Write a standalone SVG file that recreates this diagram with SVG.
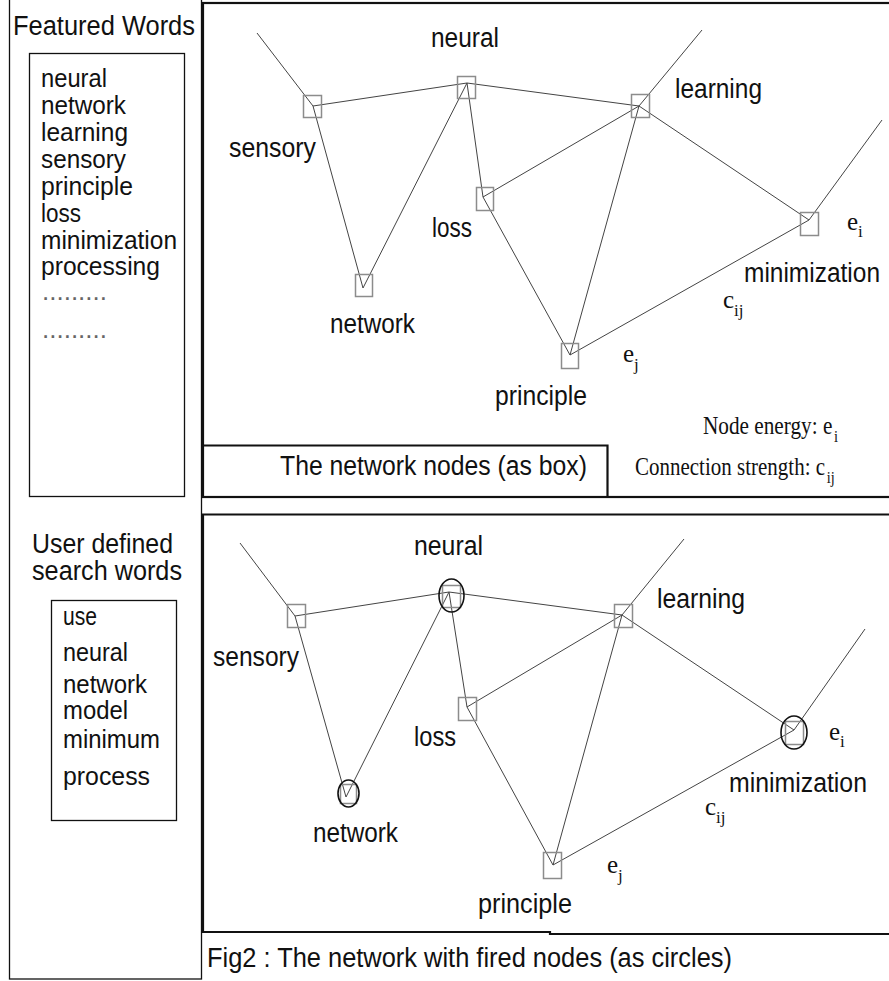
<svg xmlns="http://www.w3.org/2000/svg" width="889" height="981" viewBox="0 0 889 981">
<style>
.sans{font-family:"Liberation Sans",Arial,sans-serif;font-size:27px;fill:#111}
.list{font-size:25.5px}
.serif{font-family:"Liberation Serif","Times New Roman",serif;font-size:25px;fill:#111}
.sub{font-size:17px}
.edge{stroke:#444;stroke-width:1;fill:none}
.box{fill:none;stroke:#8c8c8c;stroke-width:1.5}
.fired{fill:none;stroke:#111;stroke-width:1.6}
.frame{fill:none;stroke:#111;stroke-width:2.2}
.thin{fill:none;stroke:#111;stroke-width:1.3}
</style>
<rect width="889" height="981" fill="#fff"/>

<!-- left panel -->
<g id="featured-words">
<rect class="thin" x="9.5" y="-1" width="192" height="980"/>
<text class="sans" x="13" y="35" font-size="28" textLength="182" lengthAdjust="spacingAndGlyphs">Featured Words</text>
<rect class="thin" x="29.5" y="53.5" width="155" height="443"/>
<text class="sans list" x="41" y="87" textLength="66" lengthAdjust="spacingAndGlyphs">neural</text>
<text class="sans list" x="41" y="114" textLength="85" lengthAdjust="spacingAndGlyphs">network</text>
<text class="sans list" x="41" y="141" textLength="87" lengthAdjust="spacingAndGlyphs">learning</text>
<text class="sans list" x="41" y="168" textLength="85" lengthAdjust="spacingAndGlyphs">sensory</text>
<text class="sans list" x="41" y="195" textLength="92" lengthAdjust="spacingAndGlyphs">principle</text>
<text class="sans list" x="41" y="222" textLength="40" lengthAdjust="spacingAndGlyphs">loss</text>
<text class="sans list" x="41" y="249" textLength="136" lengthAdjust="spacingAndGlyphs">minimization</text>
<text class="sans list" x="41" y="275" textLength="119" lengthAdjust="spacingAndGlyphs">processing</text>
<text class="sans list" x="42" y="300" textLength="65" lengthAdjust="spacingAndGlyphs" style="fill:#666">.........</text>
<text class="sans list" x="42" y="338" textLength="65" lengthAdjust="spacingAndGlyphs" style="fill:#666">.........</text>
</g>

<g id="search-words">
<text class="sans" x="32" y="553" textLength="141" lengthAdjust="spacingAndGlyphs">User defined</text>
<text class="sans" x="32" y="580" textLength="150" lengthAdjust="spacingAndGlyphs">search words</text>
<rect class="thin" x="51.5" y="600.5" width="125" height="220"/>
<text class="sans list" x="63" y="625" textLength="34" lengthAdjust="spacingAndGlyphs">use</text>
<text class="sans list" x="63" y="661" textLength="65" lengthAdjust="spacingAndGlyphs">neural</text>
<text class="sans list" x="63" y="693" textLength="84" lengthAdjust="spacingAndGlyphs">network</text>
<text class="sans list" x="63" y="719" textLength="65" lengthAdjust="spacingAndGlyphs">model</text>
<text class="sans list" x="63" y="748" textLength="97" lengthAdjust="spacingAndGlyphs">minimum</text>
<text class="sans list" x="63" y="785" textLength="87" lengthAdjust="spacingAndGlyphs">process</text>
</g>

<!-- top panel frame -->
<g id="top-panel">
<rect class="frame" x="203" y="3" width="700" height="494"/>
<path class="frame" d="M203 445.5H607.5V497"/>
<text class="sans" x="280" y="475" textLength="307" lengthAdjust="spacingAndGlyphs">The network nodes (as box)</text>
<text class="serif" transform="translate(703 434) scale(0.85 1)">Node energy: e<tspan class="sub" dx="2" dy="8">i</tspan></text>
<text class="serif" transform="translate(635 475) scale(0.84 1)">Connection strength: c<tspan class="sub" dx="2" dy="8">ij</tspan></text>
</g>

<!-- bottom panel frame -->
<g id="bottom-panel">
<path class="frame" d="M889 514.5H203V933"/>
<path class="frame" d="M203 932H550V934H889"/>
<text class="sans" x="207" y="967" textLength="525" lengthAdjust="spacingAndGlyphs">Fig2 : The network with fired nodes (as circles)</text>
</g>

<!-- connectors -->
<g id="connectors">
<!-- top graph -->
<path class="edge" d="M257 33L313 106"/>
<path class="edge" d="M313 106L467 83"/>
<path class="edge" d="M313 106L363 288"/>
<path class="edge" d="M363 288L467 83"/>
<path class="edge" d="M467 83L483 197"/>
<path class="edge" d="M467 83L639 106"/>
<path class="edge" d="M483 197L639 106"/>
<path class="edge" d="M483 197L570 355"/>
<path class="edge" d="M639 106L570 355"/>
<path class="edge" d="M639 106L809 220"/>
<path class="edge" d="M570 355L809 220"/>
<path class="edge" d="M639 106L702 30"/>
<path class="edge" d="M809 220L882 120"/>
<!-- bottom graph -->
<path class="edge" d="M240 543L295 616"/>
<path class="edge" d="M295 616L449 592"/>
<path class="edge" d="M295 616L346 797"/>
<path class="edge" d="M346 797L449 592"/>
<path class="edge" d="M449 592L467 707"/>
<path class="edge" d="M449 592L622 615"/>
<path class="edge" d="M467 707L622 615"/>
<path class="edge" d="M467 707L553 865"/>
<path class="edge" d="M622 615L553 865"/>
<path class="edge" d="M622 615L794 730"/>
<path class="edge" d="M553 865L794 730"/>
<path class="edge" d="M622 615L684 539"/>
<path class="edge" d="M794 730L865 629"/>
</g>

<!-- top graph nodes -->
<g id="t-sensory"><rect class="box" x="303.5" y="95.5" width="18" height="22"/><text class="sans" x="229" y="157" textLength="87" lengthAdjust="spacingAndGlyphs">sensory</text></g>
<g id="t-neural"><rect class="box" x="457.5" y="76.5" width="18" height="22"/><text class="sans" x="431" y="47" textLength="68" lengthAdjust="spacingAndGlyphs">neural</text></g>
<g id="t-loss"><rect class="box" x="476.5" y="187.5" width="17" height="23"/><text class="sans" x="432" y="237" textLength="40" lengthAdjust="spacingAndGlyphs">loss</text></g>
<g id="t-network"><rect class="box" x="355.5" y="274.5" width="17" height="22"/><text class="sans" x="330" y="333" textLength="85" lengthAdjust="spacingAndGlyphs">network</text></g>
<g id="t-learning"><rect class="box" x="631.5" y="94.5" width="18" height="23"/><text class="sans" x="675" y="98" textLength="87" lengthAdjust="spacingAndGlyphs">learning</text></g>
<g id="t-minimization"><rect class="box" x="800.5" y="212.5" width="18" height="23"/><text class="sans" x="744" y="282" textLength="136" lengthAdjust="spacingAndGlyphs">minimization</text>
<text class="serif" x="847" y="230">e<tspan class="sub" dy="7">i</tspan></text></g>
<g id="t-principle"><rect class="box" x="561.5" y="343.5" width="17" height="25"/><text class="sans" x="495" y="405" textLength="92" lengthAdjust="spacingAndGlyphs">principle</text>
<text class="serif" x="623" y="362">e<tspan class="sub" dy="8">j</tspan></text></g>
<g id="t-cij"><text class="serif" x="723" y="308">c<tspan class="sub" dy="8">ij</tspan></text></g>

<!-- bottom graph nodes -->
<g id="b-sensory"><rect class="box" x="287.5" y="604.5" width="18" height="23"/><text class="sans" x="213" y="666" textLength="86" lengthAdjust="spacingAndGlyphs">sensory</text></g>
<g id="b-neural"><rect class="box" x="442.5" y="585.5" width="18" height="22"/><ellipse class="fired" cx="451.5" cy="595.5" rx="12.5" ry="16.5"/><text class="sans" x="414" y="555" textLength="69" lengthAdjust="spacingAndGlyphs">neural</text></g>
<g id="b-loss"><rect class="box" x="458.5" y="697.5" width="18" height="23"/><text class="sans" x="414" y="746" textLength="42" lengthAdjust="spacingAndGlyphs">loss</text></g>
<g id="b-network"><rect class="box" x="340.5" y="784.5" width="16" height="19"/><ellipse class="fired" cx="348.5" cy="793.5" rx="10.5" ry="13.5"/><text class="sans" x="313" y="842" textLength="85" lengthAdjust="spacingAndGlyphs">network</text></g>
<g id="b-learning"><rect class="box" x="614.5" y="604.5" width="18" height="23"/><text class="sans" x="657" y="608" textLength="88" lengthAdjust="spacingAndGlyphs">learning</text></g>
<g id="b-minimization"><rect class="box" x="785.5" y="721.5" width="18" height="23"/><ellipse class="fired" cx="794" cy="732.5" rx="13" ry="16.5"/><text class="sans" x="729" y="792" textLength="138" lengthAdjust="spacingAndGlyphs">minimization</text>
<text class="serif" x="829" y="740">e<tspan class="sub" dy="7">i</tspan></text></g>
<g id="b-principle"><rect class="box" x="543.5" y="852.5" width="18" height="26"/><text class="sans" x="478" y="913" textLength="94" lengthAdjust="spacingAndGlyphs">principle</text>
<text class="serif" x="607" y="873">e<tspan class="sub" dy="8">j</tspan></text></g>
<g id="b-cij"><text class="serif" x="705" y="815">c<tspan class="sub" dy="8">ij</tspan></text></g>
</svg>
